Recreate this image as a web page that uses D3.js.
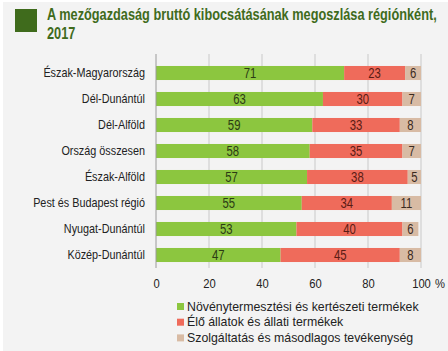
<!DOCTYPE html>
<html lang="hu">
<head>
<meta charset="utf-8">
<title>Mezőgazdaság bruttó kibocsátás</title>
<script src="https://cdn.jsdelivr.net/npm/d3@7"></script>
<style>
  body { margin: 0; background: #fff; }
  svg { display: block; }
</style>
</head>
<body>
<script>
// regions, top to bottom
let regions = ["Észak-Magyarország", "Dél-Dunántúl", "Dél-Alföld", "Ország összesen",
  "Észak-Alföld", "Pest és Budapest régió", "Nyugat-Dunántúl", "Közép-Dunántúl"];
let crops = [71, 63, 59, 58, 57, 55, 53, 47];
let animals = [23, 30, 33, 35, 38, 34, 40, 45];
let services = [6, 7, 8, 7, 5, 11, 6, 8];
let seriesNames = ["Növénytermesztési és kertészeti termékek",
  "Élő állatok és állati termékek",
  "Szolgáltatás és másodlagos tevékenység"];
let xTicks = [0, 20, 40, 60, 80, 100];

let w = 448, h = 351;
let font = '"Liberation Sans", Arial, sans-serif';
let colors = ["#8cc63f", "#ef6b5b", "#d8bba4"];
let textColors = ["#2b3a14", "#5a1c14", "#3a2a20"];
let narrowK = 0.83;

// squeeze text horizontally to mimic a condensed face
function narrow(sel, k) {
  sel.each(function() {
    let t = d3.select(this);
    let x = +t.attr("x") || 0;
    t.attr("x", x / k).attr("transform", `scale(${k},1)`);
  });
}

let svg = d3.select("body").append("svg").attr("width", w).attr("height", h);

// panel background
svg.append("rect").attr("x", 3).attr("y", 2).attr("width", w - 3).attr("height", h - 2)
  .attr("fill", "#f3f3f3");

// title
svg.append("rect").attr("x", 15).attr("y", 9).attr("width", 22).attr("height", 23)
  .attr("fill", "#3f6b1c");
let title = svg.append("text").attr("font-family", font).attr("font-weight", "bold")
  .attr("font-size", 17).attr("fill", "#3f6b1c");
let t1 = title.append("tspan").attr("y", 20)
  .text("A mezőgazdaság bruttó kibocsátásának megoszlása régiónként,");
let t2 = title.append("tspan").attr("y", 39).text("2017");
let tk = 390 / t1.node().getComputedTextLength();
t1.attr("x", 47 / tk);
t2.attr("x", 47 / tk);
title.attr("transform", `scale(${tk},1)`);

let x = d3.scaleLinear().domain([0, 100]).range([156, 421]);
let y = d3.scaleBand().domain(regions).range([60, 268]).paddingInner(0.46).paddingOuter(0.23);

// grid
svg.append("g").selectAll("line").data(xTicks.slice(1)).enter().append("line")
  .attr("x1", d => x(d)).attr("x2", d => x(d))
  .attr("y1", 54).attr("y2", 268)
  .attr("stroke", "#c9c9c9").attr("stroke-width", 1);

// stacked bars
let table = regions.map((r, i) => ({ region: r, s0: crops[i], s1: animals[i], s2: services[i] }));
let stack = d3.stack().keys(["s0", "s1", "s2"])(table);

let layers = svg.append("g").selectAll("g").data(stack).enter().append("g");
layers.each(function(layer, k) {
  let g = d3.select(this);
  g.selectAll("rect").data(layer).enter().append("rect")
    .attr("x", d => x(d[0]))
    .attr("width", d => x(d[1]) - x(d[0]))
    .attr("y", d => y(d.data.region))
    .attr("height", y.bandwidth())
    .attr("fill", colors[k]);
  g.selectAll("text").data(layer).enter().append("text")
    .attr("x", d => (x(d[0]) + x(d[1])) / 2)
    .attr("y", d => y(d.data.region) + y.bandwidth() / 2)
    .attr("dy", "0.36em")
    .attr("text-anchor", "middle")
    .attr("font-family", font).attr("font-size", 14.5)
    .attr("fill", textColors[k])
    .text(d => d[1] - d[0])
    .call(narrow, 0.78);
});

// y axis
let yAxis = svg.append("g").attr("transform", "translate(156,0)")
  .call(d3.axisLeft(y).tickSize(0).tickPadding(11));
yAxis.select(".domain").remove();
yAxis.selectAll("text").attr("font-family", font).attr("font-size", 13.2).attr("fill", "#222")
  .call(narrow, 0.82);
svg.append("line").attr("x1", 156).attr("x2", 156).attr("y1", 54).attr("y2", 268)
  .attr("stroke", "#9a9a9a");

// x axis
let xAxis = svg.append("g").attr("transform", "translate(0,268)")
  .call(d3.axisBottom(x).tickValues(xTicks).tickSize(0).tickPadding(10));
xAxis.select(".domain").remove();
xAxis.selectAll("text").attr("font-family", font).attr("font-size", 13.5).attr("fill", "#222")
  .call(narrow, narrowK);
svg.append("text").attr("x", x(100) + 14).attr("y", 288).attr("font-family", font)
  .attr("font-size", 13.5).attr("fill", "#222").text("%")
  .call(narrow, narrowK);

// legend
let legend = svg.append("g").selectAll("g").data(seriesNames).enter().append("g")
  .attr("transform", (d, i) => `translate(177,${306 + i * 15.7})`);
legend.append("rect").attr("x", 0).attr("y", -3).attr("width", 7).attr("height", 7)
  .attr("fill", (d, i) => colors[i]);
legend.append("text").attr("x", 10).attr("dy", "0.36em")
  .attr("font-family", font).attr("font-size", 13).attr("fill", "#222")
  .text(d => d)
  .call(narrow, 0.95);
</script>
</body>
</html>
